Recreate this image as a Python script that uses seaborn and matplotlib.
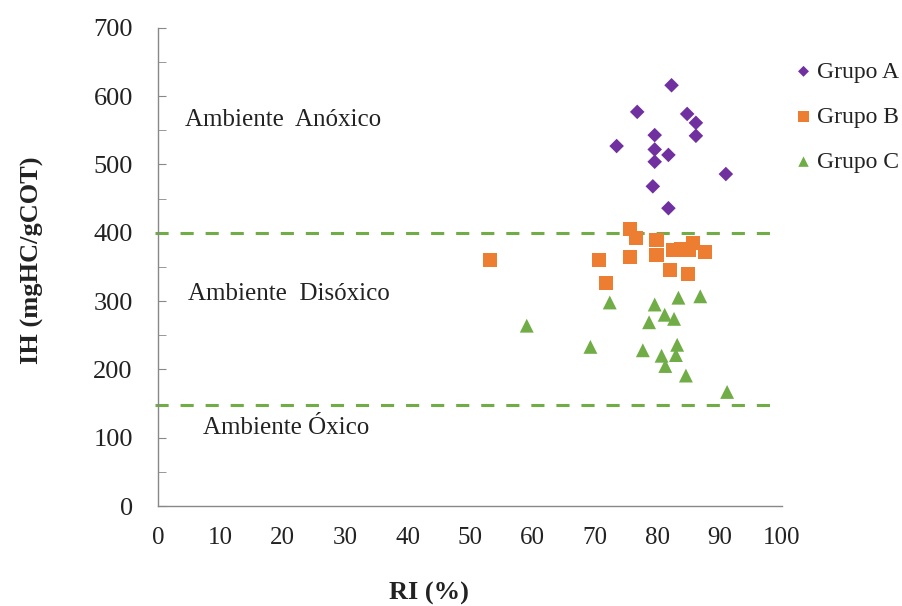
import matplotlib
matplotlib.use("Agg")
import matplotlib.pyplot as plt
import seaborn as sns
import pandas as pd
from matplotlib.ticker import MultipleLocator

# Data
grupo_a_ri = [82.3, 76.8, 84.8, 86.2, 79.6, 86.2, 73.5, 79.6, 81.8, 79.6, 91.0, 79.3, 81.8]
grupo_a_ih = [616, 577, 574, 561, 543, 542, 527, 522, 514, 504, 486, 468, 436]
grupo_b_ri = [75.6, 76.6, 79.9, 53.2, 70.7, 75.7, 79.9, 82.6, 83.9, 85.7, 85.0, 87.7, 82.1, 84.9, 71.8]
grupo_b_ih = [406, 392, 390, 360, 360, 365, 367, 375, 376, 385, 375, 372, 345, 340, 327]
grupo_c_ri = [83.4, 86.9, 72.4, 79.6, 81.2, 82.7, 78.7, 59.1, 69.3, 77.7, 83.2, 83.0, 80.7, 81.3, 84.6, 91.2]
grupo_c_ih = [305, 307, 298, 295, 280, 274, 269, 264, 233, 228, 236, 221, 220, 205, 191, 167]
groups = ["Grupo A", "Grupo B", "Grupo C"]
limits = [400, 148]
zone_labels = ["Ambiente  Anóxico", "Ambiente  Disóxico", "Ambiente Óxico"]
zone_x = [4.3, 4.8, 7.2]
zone_y = [565, 311, 114]

df = pd.concat([
    pd.DataFrame({"RI": grupo_a_ri, "IH": grupo_a_ih, "Grupo": groups[0]}),
    pd.DataFrame({"RI": grupo_b_ri, "IH": grupo_b_ih, "Grupo": groups[1]}),
    pd.DataFrame({"RI": grupo_c_ri, "IH": grupo_c_ih, "Grupo": groups[2]}),
], ignore_index=True)

sns.set_style("white")
plt.rcParams["font.family"] = ["Liberation Serif", "DejaVu Serif"]
txt_color = "#222222"

fig = plt.figure(figsize=(9.02, 6.06), dpi=100)
ax = fig.add_axes([0.175, 0.165, 0.692, 0.789])

palette = {"Grupo A": "#7030A0", "Grupo B": "#ED7D31", "Grupo C": "#70AD47"}
markers = {"Grupo A": "D", "Grupo B": "s", "Grupo C": "^"}
sizes = {"Grupo A": 55, "Grupo B": 105, "Grupo C": 100}

for g in groups:
    sub = df[df["Grupo"] == g]
    sns.scatterplot(data=sub, x="RI", y="IH", color=palette[g], marker=markers[g],
                    s=sizes[g], edgecolor="none", ax=ax, label=g, zorder=3)

for lim in limits:
    ax.axhline(lim, xmin=-0.004, xmax=0.99, color="#70AD47", lw=2.2,
               ls=(0, (4.3, 3.9)), zorder=2, clip_on=False)

for lab, x, y in zip(zone_labels, zone_x, zone_y):
    ax.text(x, y, lab, fontsize=18, va="center", ha="left", color=txt_color)

ax.set_xlim(0, 100)
ax.set_ylim(0, 700)
ax.xaxis.set_major_locator(MultipleLocator(10))
ax.yaxis.set_major_locator(MultipleLocator(100))
ax.yaxis.set_minor_locator(MultipleLocator(50))
ax.tick_params(axis="y", which="both", direction="in", length=6, color="#888888",
               left=True, labelsize=19, pad=18, labelcolor=txt_color)
ax.tick_params(axis="x", which="both", length=0, labelsize=18, pad=15,
               labelcolor=txt_color)

for side in ["top", "right"]:
    ax.spines[side].set_visible(False)
for side in ["left", "bottom"]:
    ax.spines[side].set_color("#888888")
    ax.spines[side].set_linewidth(1.0)

ax.set_xlabel("RI (%)", fontsize=19, fontweight="bold", color=txt_color)
ax.set_ylabel("IH (mgHC/gCOT)", fontsize=19, fontweight="bold", color=txt_color)
ax.xaxis.set_label_coords(0.434, -0.158)
ax.yaxis.set_label_coords(-0.183, 0.515)

leg = ax.legend(loc="upper left", bbox_to_anchor=(797 / 902, 1 - 61 / 606),
                bbox_transform=fig.transFigure, frameon=False,
                fontsize=17, handletextpad=0.3, labelspacing=1.0, borderaxespad=0,
                borderpad=0, markerscale=0.75, handlelength=0.55)
for t in leg.get_texts():
    t.set_color(txt_color)

fig.savefig("out.png", dpi=100)
